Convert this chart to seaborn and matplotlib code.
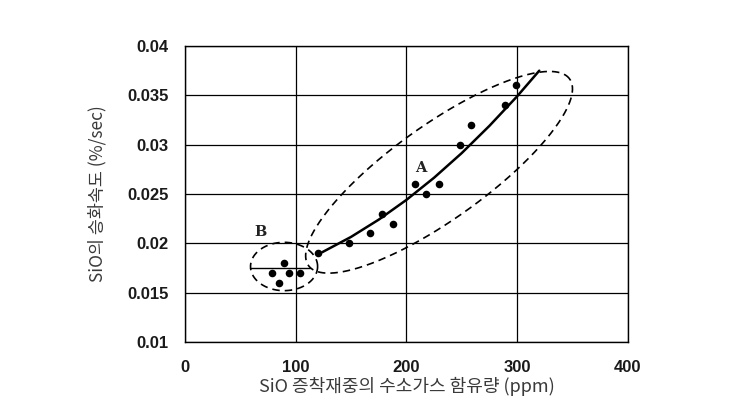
import numpy as np
import pandas as pd
import matplotlib
matplotlib.use("Agg")
import matplotlib.pyplot as plt
import seaborn as sns

# Data
grp_b_x = [79, 85, 89, 94, 104]
grp_b_y = [0.017, 0.016, 0.018, 0.017, 0.017]
grp_a_x = [120, 148, 167, 178, 188, 208, 218, 229, 248, 258, 289, 299]
grp_a_y = [0.019, 0.020, 0.021, 0.023, 0.022, 0.026, 0.025, 0.026, 0.030, 0.032, 0.034, 0.036]

# Trend lines
trend_a_x = [124, 150, 175, 200, 225, 250, 275, 300, 320]
trend_a_y = [0.0191, 0.02065, 0.0224, 0.0244, 0.02665, 0.02915, 0.03191, 0.0349, 0.0375]
trend_b_x = [59, 113]
trend_b_y = [0.0175, 0.0175]

x_ticks = [0, 100, 200, 300, 400]
y_ticks = [0.01, 0.015, 0.02, 0.025, 0.03, 0.035, 0.04]
y_tick_labels = ["0.01", "0.015", "0.02", "0.025", "0.03", "0.035", "0.04"]

xlabel = "SiO 증착재중의 수소가스 함유량 (ppm)"
ylabel = "SiO의 승화속도 (%/sec)"

sns.set_style("white")
plt.rcParams['font.family'] = ['Noto Sans CJK KR', 'DejaVu Sans']

fig = plt.figure(figsize=(7.32, 4.12), dpi=100)
ax = fig.add_axes([0.2527, 0.170, 0.605, 0.7183])

pts = pd.DataFrame({"x": grp_b_x + grp_a_x, "y": grp_b_y + grp_a_y})
sns.scatterplot(data=pts, x="x", y="y", ax=ax, color="black", s=30,
                edgecolor="black", linewidth=0, zorder=5)

ta = pd.DataFrame({"x": trend_a_x, "y": trend_a_y})
sns.lineplot(data=ta, x="x", y="y", ax=ax, color="black", lw=1.8, sort=False, zorder=4)
tb = pd.DataFrame({"x": trend_b_x, "y": trend_b_y})
sns.lineplot(data=tb, x="x", y="y", ax=ax, color="black", lw=1.0, sort=False, zorder=4)

# dashed ellipses (center, semi-major vector, semi-minor vector in data units)
t = np.linspace(0, 2 * np.pi, 400)
cxa, cya = 229.5, 0.0272
ex = cxa + 118.0 * np.cos(t) - 24.5 * np.sin(t)
ey = cya + 0.00945 * np.cos(t) + 0.00390 * np.sin(t)
ax.plot(ex, ey, color="black", lw=1.2, ls=(0, (4.5, 3)), zorder=3)
cxb, cyb = 89.5, 0.01765
bx = cxb + 30.3 * np.cos(t)
by = cyb + 0.00245 * np.sin(t)
ax.plot(bx, by, color="black", lw=1.2, ls=(0, (4.5, 3)), zorder=3)

ax.text(213, 0.0276, "A", family="DejaVu Serif", fontsize=10.5, fontweight="bold",
        ha="center", va="center", color="#222222")
ax.text(68, 0.0211, "B", family="DejaVu Serif", fontsize=10.5, fontweight="bold",
        ha="center", va="center", color="#222222")

ax.set_xlim(0, 400)
ax.set_ylim(0.01, 0.04)
ax.set_xticks(x_ticks)
ax.set_xticklabels([str(v) for v in x_ticks],
                   fontdict={"family": "Liberation Sans", "weight": "bold", "size": 12})
ax.set_yticks(y_ticks)
ax.set_yticklabels(y_tick_labels,
                   fontdict={"family": "Liberation Sans", "weight": "bold", "size": 12})
ax.grid(True, color="black", lw=0.9)
for s in ax.spines.values():
    s.set_color("black")
    s.set_linewidth(1.0)
ax.tick_params(axis="both", length=0, colors="#1a1a1a")
ax.tick_params(axis="x", pad=13)
ax.tick_params(axis="y", pad=12)

ax.set_xlabel(xlabel, fontsize=13, color="#3a3a3a", labelpad=1)
ax.set_ylabel(ylabel, fontsize=12.5, color="#3a3a3a", labelpad=15)

fig.savefig("out.png", dpi=100)
